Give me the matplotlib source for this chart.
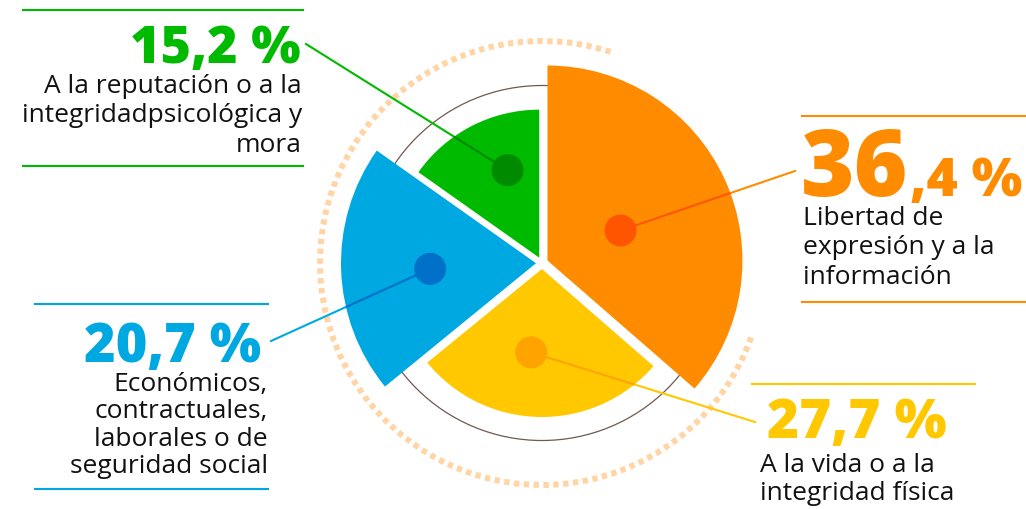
import matplotlib
matplotlib.use("Agg")
import matplotlib.pyplot as plt
from matplotlib.patches import Wedge, Circle, Arc
import numpy as np

# data
shares = [36.4, 27.7, 20.7, 15.2]
share_labels = ["36,4 %", "27,7 %", "20,7 %", "15,2 %"]
descriptions = [
    ["Libertad de", "expresión y a la", "información"],
    ["A la vida o a la", "integridad física"],
    ["Económicos,", "contractuales,", "laborales o de", "seguridad social"],
    ["A la reputación o a la", "integridadpsicológica y", "mora"],
]

# style / layout (pixel units, y up)
W, H = 1026, 510
cx, cy = 542, H - 264
radii = [195, 148, 195, 148]
explode = 6
colors = ["#FF8C00", "#FFC800", "#00A8E1", "#00BA00"]
dot_colors = ["#FF5500", "#FFA300", "#0070C8", "#008A00"]
dot_dist = [85, 90, 112, 99]
dot_shift = [-2, -6, 1, -7]          # angular nudge of the dot, degrees
line_ends = [(795, 172), (755, 423), (271, 342), (306, 45)]  # leader ends (image px)

FONT = "Open Sans"

fig = plt.figure(figsize=(W / 100, H / 100), dpi=100)
ax = fig.add_axes([0, 0, 1, 1])
ax.set_xlim(0, W)
ax.set_ylim(0, H)
ax.axis("off")

# background rings
ax.add_patch(Circle((cx, cy), 177.5, fill=False, ec="#6E5A50", lw=0.9, zorder=1))
ax.add_patch(Arc((cx, cy), 444, 444, theta1=72, theta2=341, color="#FFD5A6",
                 lw=4.3, linestyle=(0, (0.9, 0.75)), zorder=1))

# wedges, clockwise from the top
start = 90.0
for i, v in enumerate(shares):
    span = v / 100 * 360
    t1, t2 = start - span, start
    mid = np.radians((t1 + t2) / 2)
    ox, oy = cx + explode * np.cos(mid), cy + explode * np.sin(mid)
    w = Wedge((ox, oy), radii[i], t1, t2, fc=colors[i], ec="none", zorder=3)
    ax.add_patch(w)

    a = np.radians((t1 + t2) / 2 + dot_shift[i])
    dx, dy = cx + dot_dist[i] * np.cos(a), cy + dot_dist[i] * np.sin(a)
    ex, ey = line_ends[i][0], H - line_ends[i][1]
    ax.plot([dx, ex], [dy, ey], color=colors[i], lw=1.5, zorder=2)
    inner, = ax.plot([dx, ex], [dy, ey], color=dot_colors[i], lw=1.5, zorder=4)
    inner.set_clip_path(w)
    ax.add_patch(Circle((dx, dy), 16, fc=dot_colors[i], ec="none", zorder=5))
    start = t1

# rules above / below each label block (image px)
rules = [
    (0, 802, 1026, [117, 303]),
    (1, 752, 975, [385]),
    (2, 35, 268, [305, 490]),
    (3, 23, 303, [11, 167]),
]
for i, x0, x1, ys in rules:
    for y in ys:
        ax.plot([x0, x1], [H - y, H - y], color=colors[i], lw=1.5, zorder=2)

big = dict(family=FONT, fontweight="heavy", va="baseline")


def desc(lines, x, y0, step, ha):
    for k, s in enumerate(lines):
        ax.text(x, H - (y0 + k * step), s, family=FONT, color="#111111",
                fontsize=19, va="baseline", ha=ha)


# orange block: big "36" + smaller ",4 %"
whole, frac = share_labels[0].split(",")
t36 = ax.text(801, H - 196, whole, color=colors[0], fontsize=66, ha="left", **big)
fig.canvas.draw()
bb = t36.get_window_extent()
ax.text(bb.x1 + 1, H - 196, "," + frac, color=colors[0], fontsize=38.5,
        ha="left", **big)
desc(descriptions[0], 803, 225, 29.5, "left")

# yellow
ax.text(767, H - 438, share_labels[1], color=colors[1], fontsize=39.5,
        ha="left", **big)
desc(descriptions[1], 760, 472, 28.5, "left")

# blue
ax.text(261, H - 362, share_labels[2], color=colors[2], fontsize=39,
        ha="right", **big)
desc(descriptions[2], 268, 391, 27.5, "right")

# green
ax.text(301, H - 63, share_labels[3], color=colors[3], fontsize=37.5,
        ha="right", **big)
desc(descriptions[3], 302, 93, 29.5, "right")

fig.savefig("out.png", dpi=100)
